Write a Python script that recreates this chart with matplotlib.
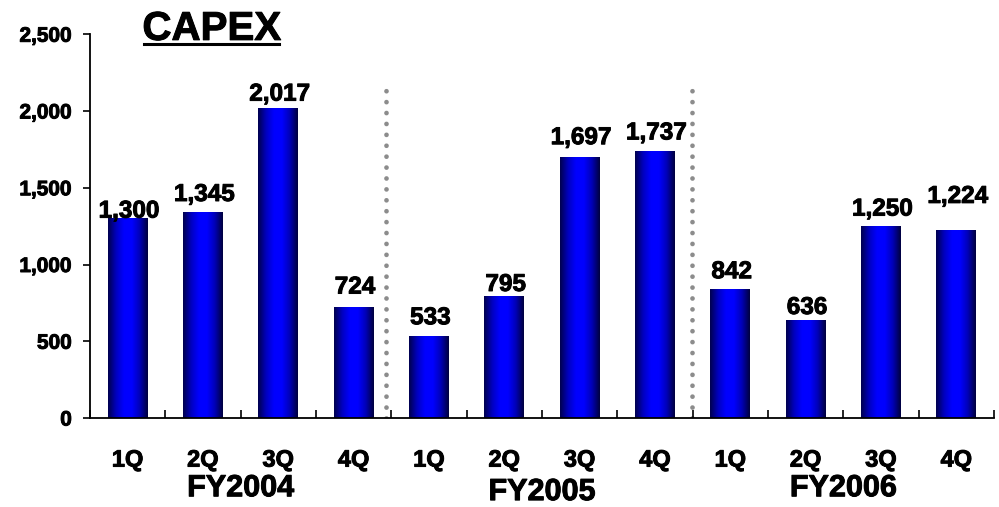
import numpy as np
import matplotlib
matplotlib.use("Agg")
import matplotlib.pyplot as plt
import matplotlib.patheffects as pe
from matplotlib.colors import LinearSegmentedColormap
from matplotlib.lines import Line2D

plt.rcParams['font.family'] = ['Liberation Sans', 'DejaVu Sans']
plt.rcParams['font.weight'] = 'bold'

years = ["FY2004", "FY2005", "FY2006"]
quarters = ["1Q", "2Q", "3Q", "4Q"]
capex = [1300, 1345, 2017, 724, 533, 795, 1697, 1737, 842, 636, 1250, 1224]

# gap between bar top and its label, in points
label_gap = [-3, 4, 2, 6, 5, 0, 6, 5, 4, 1, 4, 16]

heavy = [pe.withStroke(linewidth=0.7, foreground='black')]

fig = plt.figure(figsize=(9.99, 5.07), dpi=100)
ax = fig.add_axes([0.090, 0.1755, 0.905, 0.757])

x = np.arange(len(capex))
bars = ax.bar(x, capex, width=0.53, color='none', edgecolor='none', zorder=2)

# horizontal shading: dark edges, bright blue middle
shade = LinearSegmentedColormap.from_list(
    "shade", ["#000050", "#0000c0", "#0000ff", "#0000ff", "#0000b8", "#000040"])
grad = np.linspace(0, 1, 64).reshape(1, -1)
for b in bars:
    x0, w, h = b.get_x(), b.get_width(), b.get_height()
    im = ax.imshow(grad, cmap=shade, aspect='auto', interpolation='bicubic',
                   extent=[x0, x0 + w, 0, h], zorder=2)
    im.set_clip_path(b)

for xi, v, g in zip(x, capex, label_gap):
    ax.annotate(f"{v:,}", (xi, v), xytext=(1, g), textcoords='offset points',
                ha='center', va='bottom', fontsize=17.5, fontweight='bold',
                path_effects=heavy)

# year separators
for sx in [3.43, 7.49]:
    ax.plot([sx, sx], [0, 2180], color='#8c8c8c', lw=3.4,
            linestyle=(0, (0.01, 2.3)), dash_capstyle='round', zorder=1)

ax.set_xlim(-0.5, len(capex) - 0.5)
ax.set_ylim(0, 2500)
ax.set_yticks(range(0, 2501, 500))
ax.set_yticklabels([f"{t:,}" for t in range(0, 2501, 500)], fontsize=15,
                   path_effects=heavy)
ax.tick_params(axis='y', direction='out', length=5, width=1.2, pad=8)

ax.set_xticks(x)
ax.set_xticklabels(quarters * len(years), fontsize=17, path_effects=heavy)
ax.set_xticks(np.arange(-0.5, len(capex), 1), minor=True)
ax.tick_params(axis='x', which='major', length=0, pad=22)
ax.tick_params(axis='x', which='minor', direction='in', length=6, width=1.2)

for s in ['top', 'right']:
    ax.spines[s].set_visible(False)
for s in ['left', 'bottom']:
    ax.spines[s].set_linewidth(1.3)

trans = ax.get_xaxis_transform()
for i, (yr, yy) in enumerate(zip(years, [-0.183, -0.193, -0.183])):
    ax.text(4 * i + 1.5, yy, yr, transform=trans, ha='center', va='center',
            fontsize=22, fontweight='bold', path_effects=heavy)

title = fig.text(0.212, 0.943, "CAPEX", ha='center', va='center',
                 fontsize=29, fontweight='bold', path_effects=heavy)
fig.canvas.draw()
bb = title.get_window_extent().transformed(fig.transFigure.inverted())
fig.add_artist(Line2D([bb.x0 + 0.002, bb.x1 - 0.002], [0.913, 0.913],
                      color='black', lw=2.2, transform=fig.transFigure))

fig.savefig("out.png", dpi=100)
